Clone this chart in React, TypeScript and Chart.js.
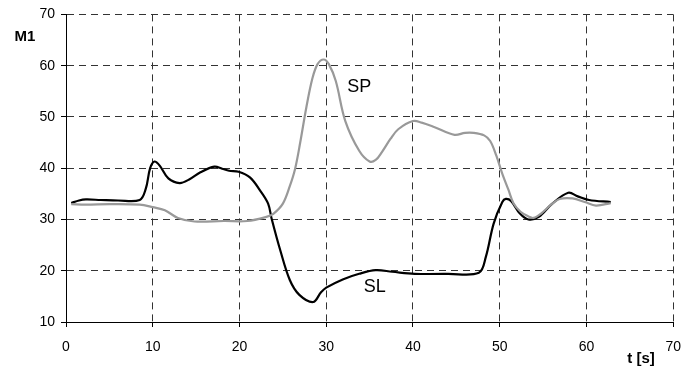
import React, { useEffect, useRef } from "react";
import { Chart, registerables } from "chart.js";

Chart.register(...registerables);

// SL series (black)
const slTime = [0.6, 1.5, 2.3, 4, 6, 8.5, 9.2, 9.7, 10.2, 10.8, 11.8, 13.1, 14.2, 15.5, 17.1, 18.0, 18.8, 19.9, 21.2, 22.4, 23.3, 23.7, 24.7, 25.8, 26.9, 28.5, 29.4, 30.0, 31.9, 33.8, 35.7, 37.6, 40.2, 44, 47.6, 48.4, 49.3, 50.3, 50.7, 51.3, 52.3, 53.3, 54.5, 56, 57.9, 59, 60.3, 62.8];
const slValues = [33.2, 33.7, 33.9, 33.8, 33.7, 33.8, 36, 40, 41.3, 40.5, 38, 37.1, 37.8, 39.2, 40.3, 39.9, 39.5, 39.3, 38.2, 35.6, 33.1, 30.2, 24.0, 18.2, 15.3, 13.9, 15.8, 16.7, 18.3, 19.4, 20.1, 19.8, 19.4, 19.4, 19.6, 22.7, 29.2, 33.4, 34.0, 33.6, 31.2, 30.0, 30.5, 33.0, 35.2, 34.5, 33.8, 33.4];

// SP series (gray)
const spTime = [0.6, 2.3, 5, 8.5, 10, 11.4, 12.9, 14.8, 18.2, 20.9, 23.1, 23.9, 25.0, 25.8, 26.4, 27.0, 27.7, 28.4, 29.0, 29.7, 30.3, 31.1, 32.2, 33.8, 35.0, 35.7, 36.4, 37.4, 38.3, 40.0, 41.0, 42.5, 44.8, 46.0, 47.0, 48.2, 48.9, 49.6, 50.3, 51.0, 51.6, 52.4, 53.3, 53.9, 54.8, 56.0, 56.9, 58.4, 59.8, 61.1, 62.8];
const spValues = [33.0, 32.9, 33.0, 32.9, 32.4, 31.8, 30.3, 29.6, 29.7, 29.7, 30.5, 31.1, 33.1, 36.5, 39.8, 45, 51.8, 57.5, 60.3, 61.2, 60.3, 57.0, 49.2, 43.4, 41.3, 41.6, 43.1, 45.7, 47.6, 49.2, 48.9, 48.0, 46.5, 46.9, 46.9, 46.4, 45.3, 42.5, 38.9, 35.8, 33.1, 31.5, 30.6, 30.3, 31.2, 33.0, 34.0, 34.1, 33.4, 32.7, 33.2];

// Axis ticks
const xTicks = [0, 10, 20, 30, 40, 50, 60, 70];
const yTicks = [10, 20, 30, 40, 50, 60, 70];

// Series labels placed in data coordinates
const seriesLabelText = ["SP", "SL"];
const seriesLabelT = [33.8, 35.6];
const seriesLabelV = [55.9, 16.8];

const FONT = '"Liberation Sans", Arial, Helvetica, sans-serif';

const textPlugin = {
  id: "textLabels",
  afterDraw(chart: any) {
    const ctx = chart.ctx;
    const xs = chart.scales.x;
    const ys = chart.scales.y;
    ctx.save();
    ctx.fillStyle = "#000";
    ctx.textAlign = "center";
    ctx.textBaseline = "middle";
    ctx.font = `bold 15px ${FONT}`;
    ctx.fillText("M1", 25, 37);
    ctx.fillText("t [s]", 641, 359);
    ctx.font = `18px ${FONT}`;
    seriesLabelText.forEach((t, i) => {
      ctx.fillText(t, xs.getPixelForValue(seriesLabelT[i]), ys.getPixelForValue(seriesLabelV[i]));
    });
    ctx.restore();
  },
};

export default function App() {
  const ref = useRef<HTMLCanvasElement | null>(null);
  useEffect(() => {
    if (!ref.current) return;
    const toPts = (ts: number[], vs: number[]) => ts.map((t, i) => ({ x: t, y: vs[i] }));
    const gridCommon = {
      color: "#333",
      lineWidth: 1,
      drawTicks: true,
      tickLength: 5,
      tickColor: "#000",
    };
    const chart = new Chart(ref.current, {
      type: "line",
      data: {
        datasets: [
          {
            label: "SP",
            data: toPts(spTime, spValues),
            borderColor: "#999999",
            borderWidth: 2.2,
            pointRadius: 0,
            tension: 0.35,
            fill: false,
          },
          {
            label: "SL",
            data: toPts(slTime, slValues),
            borderColor: "#000",
            borderWidth: 2.2,
            pointRadius: 0,
            tension: 0.35,
            fill: false,
          },
        ],
      },
      options: {
        animation: false,
        responsive: true,
        maintainAspectRatio: false,
        layout: { padding: { left: 0, top: 12, right: 11, bottom: 0 } },
        plugins: { legend: { display: false }, tooltip: { enabled: false } },
        scales: {
          x: {
            type: "linear",
            min: 0,
            max: 70,
            afterBuildTicks: (s: any) => {
              s.ticks = xTicks.map((v) => ({ value: v }));
            },
            afterFit: (s: any) => {
              s.height = 52;
            },
            ticks: {
              color: "#000",
              font: { family: FONT, size: 14 },
              padding: 12,
              maxRotation: 0,
            },
            grid: gridCommon,
            border: { display: true, color: "#000", width: 1, dash: [7, 5] },
          },
          y: {
            type: "linear",
            min: 10,
            max: 70,
            afterBuildTicks: (s: any) => {
              s.ticks = yTicks.map((v) => ({ value: v }));
            },
            afterFit: (s: any) => {
              s.width = 66;
            },
            ticks: {
              color: "#000",
              font: { family: FONT, size: 14 },
              padding: 6,
            },
            grid: gridCommon,
            border: { display: true, color: "#000", width: 1, dash: [7, 5] },
          },
        },
      },
      plugins: [textPlugin],
    } as any);
    return () => chart.destroy();
  }, []);
  return (
    <div style={{ position: "absolute", left: 0, top: 0, width: 693, height: 374, background: "#fff" }}>
      <canvas ref={ref} />
    </div>
  );
}
